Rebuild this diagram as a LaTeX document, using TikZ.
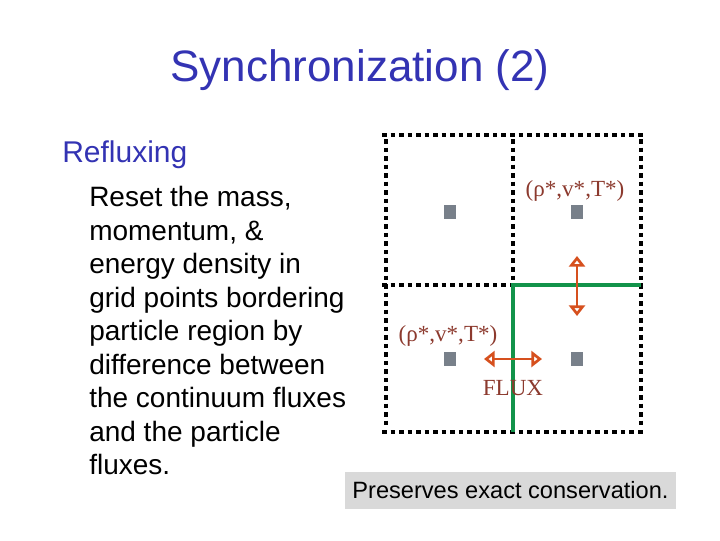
\documentclass[tikz,border=0pt]{standalone}
\usepackage{fontspec}
\setmainfont{Liberation Sans}
\newfontfamily\seriffont{Liberation Serif}
\usetikzlibrary{arrows.meta}
\definecolor{titleblue}{RGB}{51,51,179}
\definecolor{labelbrown}{RGB}{140,58,46}
\definecolor{arroworange}{RGB}{214,80,30}
\definecolor{gridgreen}{RGB}{18,147,74}
\definecolor{cellgray}{RGB}{120,128,138}
\definecolor{notegray}{RGB}{217,217,217}
\tikzset{
  gridline/.style={line width=2.6pt, dash pattern=on 3.4pt off 3pt, black},
  boundary/.style={line width=3.3pt, gridgreen},
  cellpt/.style={fill=cellgray, draw=none, minimum width=9pt, minimum height=11pt, inner sep=0pt},
  fluxarrow/.style={line width=2.2pt, arroworange, {Triangle[open, length=8pt, width=12pt, fill=white]}-{Triangle[open, length=8pt, width=12pt, fill=white]}},
  bodytext/.style={anchor=base west, inner sep=0pt, font=\fontsize{21pt}{25pt}\selectfont},
  statelabel/.style={inner sep=0pt, text=labelbrown, font=\seriffont\fontsize{17.3pt}{20pt}\selectfont}
}
\begin{document}
\begin{tikzpicture}[x=0.75pt, y=-0.75pt]
\useasboundingbox (0,0) rectangle (720,540);
% title
\node[anchor=base, inner sep=0pt, text=titleblue, font=\fontsize{33pt}{39pt}\selectfont] (title) at (360,81) {Synchronization (2)};
\node[anchor=base west, inner sep=0pt, text=titleblue, font=\fontsize{22.5pt}{27pt}\selectfont] (refl) at (62,162) {Refluxing};
\node[bodytext] (l1) at (89,206.5) {Reset the mass,};
\node[bodytext] (l2) at (89,240) {momentum, \&};
\node[bodytext] (l3) at (89,273.5) {energy density in};
\node[bodytext] (l4) at (89,307) {grid points bordering};
\node[bodytext] (l5) at (89,340.5) {particle region by};
\node[bodytext] (l6) at (89,374) {difference between};
\node[bodytext] (l7) at (89,407.5) {the continuum fluxes};
\node[bodytext] (l8) at (89,441) {and the particle};
\node[bodytext] (l9) at (89,474.5) {fluxes.};
% grid
\coordinate (g00) at (386,135); \coordinate (g10) at (513,135); \coordinate (g20) at (641,135);
\coordinate (g01) at (386,285); \coordinate (g11) at (513,285); \coordinate (g21) at (641,285);
\coordinate (g02) at (386,432); \coordinate (g12) at (513,432); \coordinate (g22) at (641,432);
\draw[gridline] ([xshift=-3]g00) -- ([xshift=3]g20);
\draw[gridline] ([xshift=-3]g01) -- ([xshift=3]g21);
\draw[gridline] ([xshift=-3]g02) -- ([xshift=3]g22);
\draw[gridline] ([yshift=-3]g00) -- ([yshift=3]g02);
\draw[gridline] ([yshift=-3]g10) -- ([yshift=3]g12);
\draw[gridline] ([yshift=-3]g20) -- ([yshift=3]g22);
\draw[boundary] (g12) -- (g11) -- (g21);
% cell points
\node[cellpt] (c1) at (450,212) {};
\node[cellpt] (c2) at (577,212) {};
\node[cellpt] (c3) at (450,359) {};
\node[cellpt] (c4) at (577,359) {};
% labels
\node[statelabel] (s1) at (575,191) {(ρ*,v*,T*)};
\node[statelabel] (s2) at (448,336) {(ρ*,v*,T*)};
\node[statelabel] (flux) at (513,388) {FLUX};
% flux arrows
\coordinate (va) at (577,256); \coordinate (vb) at (577,316);
\coordinate (ha) at (484,359); \coordinate (hb) at (542,359);
\draw[fluxarrow] (va) -- (vb);
\draw[fluxarrow] (ha) -- (hb);
% note
\node[fill=notegray, minimum width=331*0.75pt, minimum height=37*0.75pt, inner sep=0pt, font=\fontsize{17.7pt}{21pt}\selectfont] (note) at (510.5,490.5) {Preserves exact conservation.};
\end{tikzpicture}
\end{document}
